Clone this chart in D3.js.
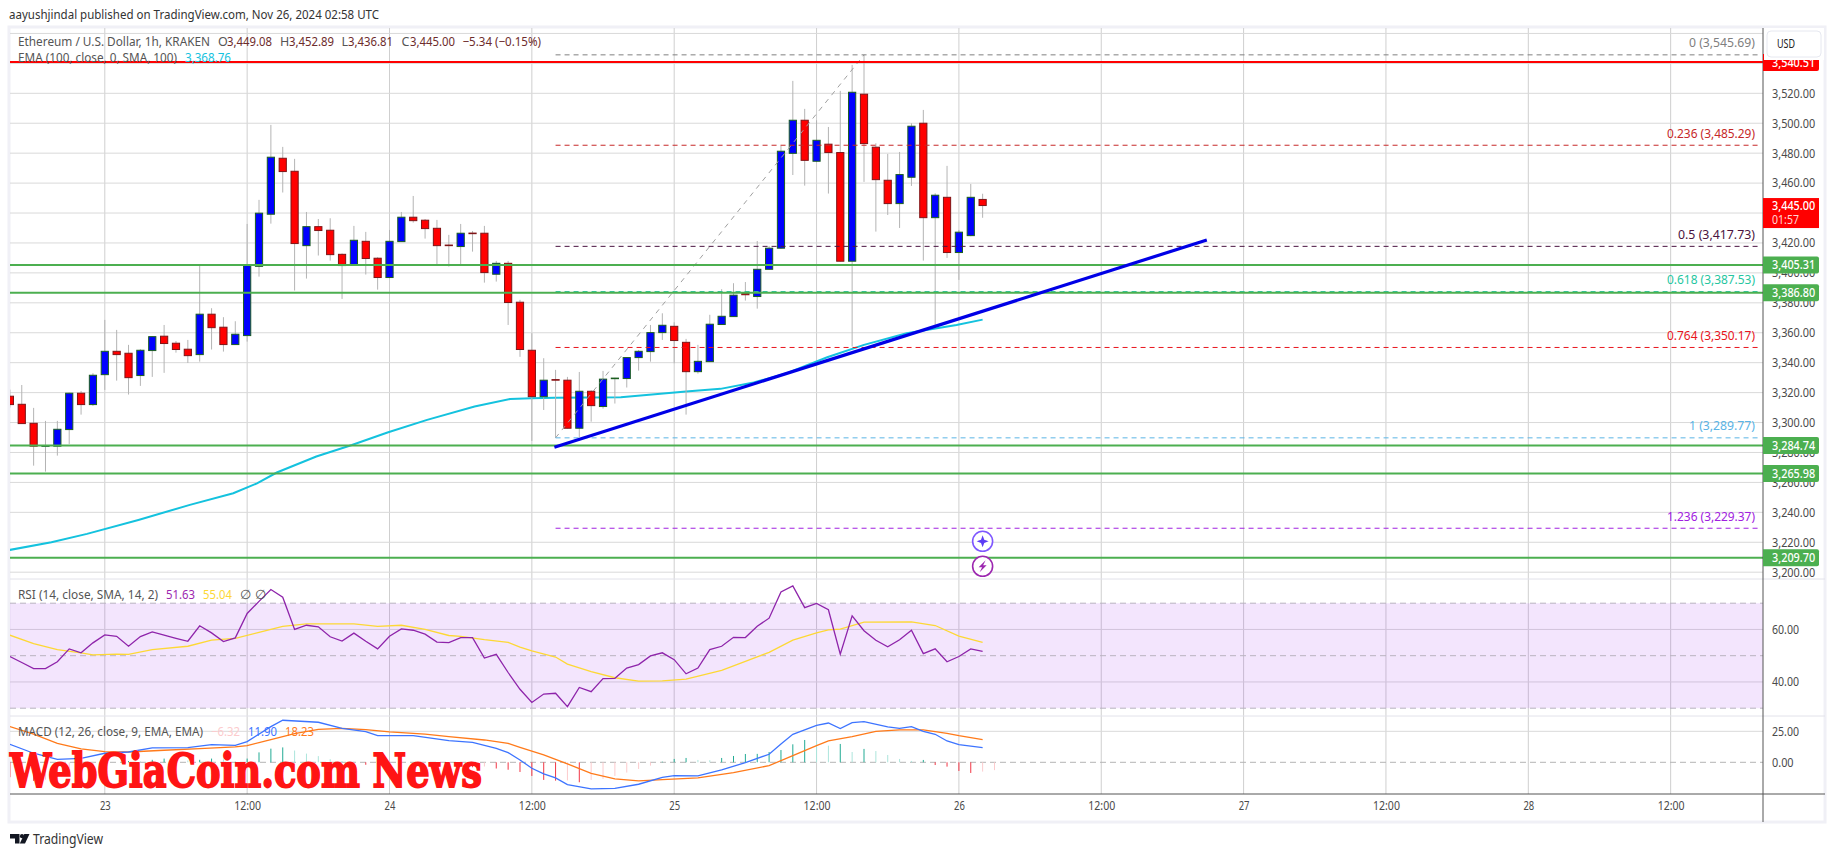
<!DOCTYPE html>
<html>
<head>
<meta charset="utf-8">
<script src="https://cdn.jsdelivr.net/npm/d3@7"></script>
<style>
  html, body { margin: 0; padding: 0; background: #fff; overflow: hidden; }
  text { font-family: "Noto Sans", sans-serif; }
</style>
</head>
<body>
<div id="chart"></div>
<script>
// Candles, one per hour. Hour 0 = Nov 23 00:00, first candle is hour -8
const firstHour = -8;
const opens = [3317.6,3312.2,3299.5,3284.2,3284.2,3295.3,3319.6,3312,3332,3347.6,3346.3,3331.4,3348.1,3357.7,3353,3349,3345.4,3372.4,3363.7,3352.1,
  3358.1,3404.4,3439.2,3476.6,3467.9,3418.2,3430.9,3428.5,3412.4,3405.5,3421.1,3409.8,3396.9,3420.9,3437.2,3435.2,3429.8,3418.6,3417.6,3426.6,
  3426.5,3399.1,3406.4,3380.4,3348.3,3317.3,3328.7,3328.3,3296.2,3320.9,3310.7,3329.4,3329.4,3343.4,3347.4,3360.1,3364.3,3353.6,3334,3340.7,
  3365.5,3370.8,3386.2,3384.2,3402.4,3416.5,3479.9,3502,3474.6,3486,3480.4,3407.8,3519.4,3484,3461.9,3446.3,3463.9,3500,3436.9,3450.5,3413.6,3424.9,3449.08];
const highs = [3322,3325.1,3309.8,3301.1,3301.1,3320,3321.1,3333,3368.6,3361.9,3351.9,3349,3357.6,3365.2,3354.5,3355.2,3404.9,3376.4,3370.4,3367.7,
  3432.7,3448.8,3498.9,3484.2,3476.2,3440.7,3436,3436.5,3413,3431.4,3427.4,3410.5,3428.7,3440.7,3451.4,3436,3435.4,3425.4,3432.7,3428,
  3431.4,3408,3408,3382,3359.7,3343,3335.2,3330.5,3333.8,3321.5,3334.5,3329.9,3343.6,3348.5,3365.2,3373,3367,3355.9,3351.9,3372,
  3389.1,3393.1,3393.9,3421.3,3418,3485,3528.3,3509.6,3502,3497.5,3521.6,3539,3545.69,3486.6,3479.5,3480.8,3500,3508.9,3453.2,3471.5,3428.7,3459.4,3452.89];
const lows = [3310,3299.3,3271.2,3267.2,3277.9,3285.7,3305.3,3311.1,3321.8,3328,3318.7,3324.5,3330.5,3333.2,3346.7,3339.8,3340.7,3348.8,3347.4,3352,
  3354.1,3397.5,3432.9,3453.7,3388.2,3396.2,3411.6,3408.2,3382.6,3405,3398.9,3388.8,3396.4,3420.9,3433.6,3422.9,3405.1,3404.2,3405.8,3414.2,
  3393.5,3394.2,3365.2,3343.9,3287.7,3308.4,3289.77,3296,3290.2,3300.6,3309.3,3312.7,3323.4,3334.7,3340.7,3355.2,3339.6,3305.3,3332.7,3340.6,
  3365.4,3370.7,3381.5,3376.1,3402,3416,3465.4,3458.3,3474,3453,3407.5,3350.8,3460.8,3427.6,3438.7,3430,3458.1,3408.2,3365.2,3410,3395.3,3424.5,3436.81];
const closes = [3312,3299.3,3284.2,3284.5,3295.5,3319.6,3312,3331.6,3347.6,3345.4,3330,3348.3,3357.4,3352.8,3348.8,3344.7,3372.4,3363.4,3352.1,3359,
  3404.9,3439.9,3477.3,3467.7,3419.6,3430.9,3428.3,3412.2,3404.9,3421.8,3409.6,3396.9,3421.1,3437.2,3434.9,3429.6,3418.2,3418.3,3426.5,3426.4,
  3400.2,3406.4,3380.2,3348.8,3317.3,3328.3,3328.4,3296.2,3320.9,3311.3,3329,3329.7,3343.4,3347.6,3360.1,3365,3354.8,3334,3340.9,3365.7,
  3371,3385.1,3385.4,3402.4,3416.5,3481.3,3502,3475.2,3488.6,3480.4,3407.8,3520.7,3486.4,3462.3,3446.3,3465.7,3498,3436.9,3451.9,3413.6,3427.2,3450.5,3445];

// EMA 100, read at a handful of hours
const emaHours = [-8,-4.5,-1.5,2.83,7.17,10.83,12.83,14.5,17.83,20.83,23.83,27.17,31.17,34.17,36,37.9,43.5,49,51.9,54.7,57.5,60.9,64,67.6,71.8,74];
const emaValues = [3214.9,3220,3225.6,3234.9,3245,3252.8,3259.4,3266.6,3277.3,3285,3293.3,3301.8,3310.7,3315.8,3316.2,3316.5,3316.9,3320.7,3322.5,3326.7,3333,3343.6,3351.9,3359.7,3365.2,3368.76];

// Horizontal levels
const greenLevels = [3405.31,3386.8,3284.74,3265.98,3209.7];
const redLevel = 3540.51;
const lastPrice = 3445;
const lastCountdown = "01:57";

// Fibonacci retracement
const fibRatios = ["0","0.236","0.5","0.618","0.764","1","1.236"];
const fibPrices = [3545.69,3485.29,3417.73,3387.53,3350.17,3289.77,3229.37];
const fibColors = ["#808080","#c62828","#4a1440","#26c6a0","#e8141c","#5ab4e6","#a020e0"];
const fibStartHour = 38;
const fibTopHour = 64;

// Trend line, hour and price of its two ends
const trendHours = [37.9,92.9];
const trendPrices = [3283.5,3422];

// RSI, one value per hour from firstHour
const rsiValues = [49.7,47.4,45.1,45.1,47.7,52.6,51.1,54.9,57.9,57.4,53.6,57.3,59.1,57.8,56.6,55.5,61.4,58.7,55.4,56.8,
  66.1,70.7,75.2,72.3,60,61.6,61,57.2,55.6,58.6,55.5,52.6,57.4,60.2,59.7,58.2,55.2,55,56.9,56.9,
  49.1,50.5,43.6,37.2,32.2,35.4,35.7,30.6,37.9,36.3,41.3,41.4,45.3,46.6,49.9,51.1,48.5,43.1,45.3,52.3,
  53.6,57,56.9,61.2,64.3,74.3,76.6,68.3,69.9,67.5,50.6,65.2,59.5,55.9,53.4,56.1,59.7,50.8,52.6,47.7,49.7,52.6,51.63];
const rsiSmaHours = [-8,-6,-4,-2,-1,1,2,4,7,9,11,13,15,17,21,23,25,27,29,30,32,34,35,36,38,39,41,43,45,47,49,52,54,56,58,60,61,62,64,68,70,72,74];
const rsiSmaValues = [57.8,54.6,52.3,51.1,50.3,50.6,50.5,52.3,53.6,55.9,56.6,58.9,61.2,62.1,62.1,61.2,61.6,60,57.7,57.4,56.1,55.1,53.3,51.8,49.5,46.8,43.9,41.6,40.3,40.4,41.1,44.4,47.8,51.3,55.9,58.7,59.8,60.1,62.8,62.9,61.5,57.5,55.04];

// MACD
const macdHours = [-8,-6,-4,-2,0,2,4,7,9,11,12,14,15,18,20,22,23,26,29,31,33,34,35,36,37,38,39,41,43,45,47,48,50,52,54,56,57,58,60,61,62,63,64,66,67,68,69,70,71,72,74];
const macdValues = [14.5,7.3,2.4,3.2,7.3,8.3,11.6,11.8,14.2,13.7,16.7,28.8,33.9,32.3,27.4,24.7,21.5,21.5,17.5,16.1,11.3,7.8,1.9,-4.8,-9.4,-12.6,-18,-21.5,-21,-17.7,-12.1,-10.8,-11,-6.2,-0.3,6.5,14.8,22.6,29.8,31.7,27.2,32,32.8,28.5,27.4,28.8,25,22.6,17.2,14.2,11.9];
const signalHours = [-8,-6,-4,-2,0,2,5,8,11,12,14,16,18,20,22,24,27,29,32,34,35,37,39,41,43,45,47,50,53,56,58,60,61,63,65,67,69,71,72,74];
const signalValues = [28.8,22.8,15.3,10.8,8.6,8.3,9.7,11,12.4,13.4,18.3,23.1,26.6,27.4,26.3,24.5,22.8,20.7,18,15.3,12.1,5.9,-1.3,-8.9,-13.4,-15,-14,-12.6,-8.3,-2.7,5.4,13.4,17.2,20.7,25,26.1,26.1,23.4,21.5,18.23];
const histValues = [-12,-14,-15,-14,-12,-9,-8,-5,-1,0,1,0.7,2,3,2.5,1.5,2,3,2.4,0.8,
  3,8,11,12,9.5,7,5,2.5,1,0.4,-2,-2,-1.5,-1,-0.6,-0.4,-0.2,-0.1,-3,-4,
  -3.4,-5,-6,-7.8,-11,-14.2,-14.8,-14.6,-16.1,-14.2,-13.4,-11,-8.3,-5.4,-2.7,0.5,2.7,3.5,1.9,1.7,
  3.5,5.1,6.7,6.8,8.3,9.9,14.5,18,17.2,13.4,14.8,8.3,10.8,9.1,5.9,2.7,1.1,1.9,-2.2,-3.5,-7,-8.6,-7.5,-6.32];

// Axis ticks
const priceTicks = [3200,3220,3240,3260,3280,3300,3320,3340,3360,3380,3400,3420,3440,3460,3480,3500,3520,3540,3560];
const rsiTicks = [40,60];
const macdTicks = [0,25];
const timeTicks = [0,12,24,36,48,60,72,84,96,108,120,132];
const timeLabels = ["23","12:00","24","12:00","25","12:00","26","12:00","27","12:00","28","12:00"];

const width = 1835, height = 857;
const plotLeft = 10, plotRight = 1763, paneTop = 28, mainBottom = 579, rsiBottom = 716, macdBottom = 794, frameRight = 1825, frameBottom = 822;
const charWidth = 5.4; // labels in the reference are narrow, squeeze to this per character

const svg = d3.select("#chart").append("svg")
    .attr("width", width)
    .attr("height", height)
    .attr("viewBox", `0 0 ${width} ${height}`);

const xScale = d3.scaleLinear().domain([0, 12]).range([104.8, 247.15]);
const yScale = d3.scaleLinear().domain([3520, 3200]).range([93.3, 572.2]);
const rsiScale = d3.scaleLinear().domain([70, 30]).range([603.2, 708.2]);
const macdScale = d3.scaleLinear().domain([25, 0]).range([731.3, 762.3]);

const fmt = d3.format(",.2f");
const hourOf = i => firstHour + i;

// clip for everything that sits in the plot
svg.append("clipPath").attr("id", "plot-clip").append("rect")
    .attr("x", plotLeft).attr("y", paneTop)
    .attr("width", plotRight - plotLeft).attr("height", macdBottom - paneTop);

// frame
svg.append("rect")
    .attr("x", 9).attr("y", 27)
    .attr("width", frameRight - 9).attr("height", frameBottom - 27)
    .attr("fill", "#fff").attr("stroke", "#f0f0f6").attr("stroke-width", 3);

const plot = svg.append("g").attr("clip-path", "url(#plot-clip)");

// grid
const gridColor = "#d9d9d9";
plot.selectAll(".grid-x").data(timeTicks).enter().append("line")
    .attr("class", "grid-x")
    .attr("x1", d => xScale(d)).attr("x2", d => xScale(d))
    .attr("y1", paneTop).attr("y2", macdBottom)
    .attr("stroke", "#cfcfcf").attr("stroke-width", 1);
plot.selectAll(".grid-y").data(priceTicks).enter().append("line")
    .attr("class", "grid-y")
    .attr("x1", plotLeft).attr("x2", plotRight)
    .attr("y1", d => yScale(d)).attr("y2", d => yScale(d))
    .attr("stroke", gridColor);
plot.selectAll(".grid-rsi").data(rsiTicks).enter().append("line")
    .attr("class", "grid-rsi")
    .attr("x1", plotLeft).attr("x2", plotRight)
    .attr("y1", d => rsiScale(d)).attr("y2", d => rsiScale(d))
    .attr("stroke", gridColor);
plot.append("line")
    .attr("x1", plotLeft).attr("x2", plotRight)
    .attr("y1", macdScale(25)).attr("y2", macdScale(25))
    .attr("stroke", gridColor);

// EMA sits behind the candles
const emaLine = d3.line().x((d, i) => xScale(emaHours[i])).y(d => yScale(d));
plot.append("path").datum(emaValues)
    .attr("d", emaLine)
    .attr("fill", "none").attr("stroke", "#14c2de").attr("stroke-width", 2);

// candles
const candles = plot.append("g").selectAll("g").data(closes).enter().append("g");
candles.append("line")
    .attr("x1", (d, i) => xScale(hourOf(i))).attr("x2", (d, i) => xScale(hourOf(i)))
    .attr("y1", (d, i) => yScale(highs[i])).attr("y2", (d, i) => yScale(lows[i]))
    .attr("stroke", "#b4b4b4").attr("stroke-width", 1);
candles.append("rect")
    .attr("x", (d, i) => xScale(hourOf(i)) - 3.6)
    .attr("width", 7.2)
    .attr("y", (d, i) => yScale(Math.max(opens[i], d)))
    .attr("height", (d, i) => Math.max(0.6, Math.abs(yScale(opens[i]) - yScale(d))))
    .attr("fill", (d, i) => d >= opens[i] ? "#0000ff" : "#ff0000")
    .attr("stroke", (d, i) => d >= opens[i] ? "#1b5e20" : "#7f1416")
    .attr("stroke-width", 1);

// fib retracement
plot.append("line")
    .attr("x1", xScale(fibStartHour)).attr("y1", yScale(fibPrices[5]))
    .attr("x2", xScale(fibTopHour)).attr("y2", yScale(fibPrices[0]))
    .attr("stroke", "#a0a0a0").attr("stroke-dasharray", "5 5");
plot.selectAll(".fib").data(fibPrices).enter().append("line")
    .attr("class", "fib")
    .attr("x1", xScale(fibStartHour)).attr("x2", 1759)
    .attr("y1", d => yScale(d)).attr("y2", d => yScale(d))
    .attr("stroke", (d, i) => fibColors[i])
    .attr("stroke-dasharray", "5 4");

// support and resistance levels
plot.selectAll(".level").data(greenLevels).enter().append("line")
    .attr("class", "level")
    .attr("x1", plotLeft).attr("x2", plotRight)
    .attr("y1", d => yScale(d)).attr("y2", d => yScale(d))
    .attr("stroke", "#4caf50").attr("stroke-width", 2);
plot.append("line")
    .attr("x1", plotLeft).attr("x2", plotRight)
    .attr("y1", yScale(redLevel) - 0.6).attr("y2", yScale(redLevel) - 0.6)
    .attr("stroke", "#ff0000").attr("stroke-width", 2);

// trend line
plot.append("line")
    .attr("x1", xScale(trendHours[0])).attr("y1", yScale(trendPrices[0]))
    .attr("x2", xScale(trendHours[1])).attr("y2", yScale(trendPrices[1]))
    .attr("stroke", "#0000e6").attr("stroke-width", 3.2);

// fib labels
svg.selectAll(".fib-label").data(fibPrices).enter().append("text")
    .attr("class", "fib-label")
    .attr("x", 1755).attr("y", d => yScale(d) - 12)
    .attr("dy", "0.35em").attr("text-anchor", "end")
    .attr("font-size", 12.5)
    .attr("fill", (d, i) => fibColors[i])
    .text((d, i) => `${fibRatios[i]} (${fmt(d)})`)
    .attr("textLength", (d, i) => `${fibRatios[i]} (${fmt(d)})`.length * 5.5)
    .attr("lengthAdjust", "spacingAndGlyphs");

// RSI pane
plot.append("rect")
    .attr("x", plotLeft).attr("width", plotRight - plotLeft)
    .attr("y", rsiScale(70)).attr("height", rsiScale(30) - rsiScale(70))
    .attr("fill", "rgb(155,38,238)").attr("fill-opacity", 0.12);
plot.selectAll(".rsi-band").data([70, 50, 30]).enter().append("line")
    .attr("class", "rsi-band")
    .attr("x1", plotLeft).attr("x2", plotRight)
    .attr("y1", d => rsiScale(d)).attr("y2", d => rsiScale(d))
    .attr("stroke", "#b9b3bf").attr("stroke-dasharray", "6 4");
plot.append("path").datum(rsiSmaValues)
    .attr("d", d3.line().x((d, i) => xScale(rsiSmaHours[i])).y(d => rsiScale(d)))
    .attr("fill", "none").attr("stroke", "#fdd835").attr("stroke-width", 1.3);
plot.append("path").datum(rsiValues)
    .attr("d", d3.line().x((d, i) => xScale(hourOf(i))).y(d => rsiScale(d)))
    .attr("fill", "none").attr("stroke", "#8e24aa").attr("stroke-width", 1.3);

// MACD pane
plot.append("line")
    .attr("x1", plotLeft).attr("x2", plotRight)
    .attr("y1", macdScale(0)).attr("y2", macdScale(0))
    .attr("stroke", "#b5b5b5").attr("stroke-dasharray", "6 4");
const histColor = (d, i) => {
    const prev = i > 0 ? histValues[i - 1] : d;
    if (d >= 0) return d >= prev ? "#22ab94" : "#ace5dc";
    return d <= prev ? "#f23645" : "#fccbcd";
};
plot.selectAll(".hist").data(histValues).enter().append("line")
    .attr("class", "hist")
    .attr("x1", (d, i) => xScale(hourOf(i))).attr("x2", (d, i) => xScale(hourOf(i)))
    .attr("y1", macdScale(0)).attr("y2", d => macdScale(d))
    .attr("stroke", histColor).attr("stroke-width", 1);
plot.append("path").datum(signalValues)
    .attr("d", d3.line().x((d, i) => xScale(signalHours[i])).y(d => macdScale(d)))
    .attr("fill", "none").attr("stroke", "#ff7a1a").attr("stroke-width", 1.3);
plot.append("path").datum(macdValues)
    .attr("d", d3.line().x((d, i) => xScale(macdHours[i])).y(d => macdScale(d)))
    .attr("fill", "none").attr("stroke", "#3d74ff").attr("stroke-width", 1.3);

// pane separators and axis lines
[mainBottom, rsiBottom].forEach(y => {
    svg.append("line").attr("x1", plotLeft).attr("x2", frameRight)
        .attr("y1", y).attr("y2", y).attr("stroke", "#e2e2ea");
});
svg.append("line").attr("x1", plotLeft).attr("x2", frameRight)
    .attr("y1", macdBottom).attr("y2", macdBottom).attr("stroke", "#555").attr("stroke-width", 1);
svg.append("line").attr("x1", plotRight).attr("x2", plotRight)
    .attr("y1", paneTop).attr("y2", frameBottom).attr("stroke", "#555").attr("stroke-width", 1);

// axes
const styleAxis = g => {
    g.select(".domain").remove();
    g.selectAll("line").remove();
    g.selectAll("text").attr("font-size", 12).attr("fill", "#4a4a4a")
        .style("font-family", '"Noto Sans", sans-serif')
        .attr("textLength", function () { return this.textContent.length * charWidth; })
        .attr("lengthAdjust", "spacingAndGlyphs");
};
const rightAxis = (scale, ticks) => d3.axisRight(scale).tickValues(ticks).tickFormat(fmt).tickSize(0).tickPadding(9);
svg.append("g").attr("transform", `translate(${plotRight},0)`)
    .call(rightAxis(yScale, priceTicks)).call(styleAxis);
svg.append("g").attr("transform", `translate(${plotRight},0)`)
    .call(rightAxis(rsiScale, rsiTicks)).call(styleAxis);
svg.append("g").attr("transform", `translate(${plotRight},0)`)
    .call(rightAxis(macdScale, macdTicks)).call(styleAxis);
svg.append("g").attr("transform", `translate(0,${macdBottom})`)
    .call(d3.axisBottom(xScale).tickValues(timeTicks)
        .tickFormat((d, i) => timeLabels[i]).tickSize(0).tickPadding(7))
    .call(styleAxis);

// price badges
const badgeText = (x, y, s, color, weight) => svg.append("text")
    .attr("x", x).attr("y", y).attr("dy", "0.35em")
    .attr("font-size", 12).attr("font-weight", weight).attr("fill", color)
    .attr("textLength", s.length * charWidth).attr("lengthAdjust", "spacingAndGlyphs")
    .text(s);
const badge = (price, color) => {
    const y = yScale(price);
    svg.append("path")
        .attr("d", `M${plotRight} ${y - 8.5}H1817a2 2 0 0 1 2 2V${y + 6.5}a2 2 0 0 1 -2 2H${plotRight}Z`)
        .attr("fill", color);
    badgeText(1772, y, fmt(price), "#fff", 500);
};
greenLevels.forEach(d => badge(d, "#4caf50"));
badge(redLevel, "#ff0000");

// USD button goes over the red badge and cuts it off
svg.append("rect")
    .attr("x", plotRight + 1).attr("y", paneTop).attr("width", frameRight - plotRight - 2).attr("height", 32)
    .attr("fill", "#fff");
svg.append("rect")
    .attr("x", 1767).attr("y", 31).attr("width", 54).attr("height", 26).attr("rx", 4)
    .attr("fill", "#fff").attr("stroke", "#e6e8f0");
svg.append("text").attr("x", 1777).attr("y", 44).attr("dy", "0.35em")
    .attr("font-size", 12).attr("fill", "#222")
    .attr("textLength", 18).attr("lengthAdjust", "spacingAndGlyphs").text("USD");

// last price
const lastY = yScale(lastPrice);
svg.append("rect")
    .attr("x", plotRight).attr("y", lastY - 7.5).attr("width", 56).attr("height", 30)
    .attr("fill", "#ff0000");
badgeText(1772, lastY, fmt(lastPrice), "#fff", 500);
badgeText(1772, lastY + 14, lastCountdown, "#ffd6d6", 400);

// icons on the chart
const iconX = xScale(74);
svg.append("circle").attr("cx", iconX).attr("cy", 541.3).attr("r", 10)
    .attr("fill", "#fff").attr("stroke", "#7e57ff").attr("stroke-width", 1.6);
svg.append("path")
    .attr("transform", `translate(${iconX},541.3)`)
    .attr("d", "M0 -6L1.6 -1.6L6 0L1.6 1.6L0 6L-1.6 1.6L-6 0L-1.6 -1.6Z")
    .attr("fill", "#5c3cf5");
svg.append("circle").attr("cx", iconX).attr("cy", 566.3).attr("r", 10)
    .attr("fill", "#fff").attr("stroke", "#9c27b0").attr("stroke-width", 1.6);
svg.append("path")
    .attr("transform", `translate(${iconX},566.3)`)
    .attr("d", "M3 -6L-4 1H-0.5L-3 6L4 -1H0.5Z")
    .attr("fill", "#9c27b0");

// legends, each part is [x, text, colour, width]
const legend = (y, parts) => {
    parts.forEach(p => {
        const t = svg.append("text").attr("x", p[0]).attr("y", y).attr("dy", "0.35em")
            .attr("font-size", 12.5).attr("fill", p[2]).text(p[1]);
        if (p[3]) t.attr("textLength", p[3]).attr("lengthAdjust", "spacingAndGlyphs");
    });
};
const ohlcColor = "#6d2c2c", legendGrey = "#555";
legend(42, [
    [18, "Ethereum / U.S. Dollar, 1h, KRAKEN", legendGrey, 192],
    [218, "O", legendGrey], [227, "3,449.08", ohlcColor, 45],
    [280, "H", legendGrey], [289, "3,452.89", ohlcColor, 45],
    [341.5, "L", legendGrey], [348, "3,436.81", ohlcColor, 45],
    [401.6, "C", legendGrey], [410, "3,445.00", ohlcColor, 45],
    [462.5, "−5.34 (−0.15%)", ohlcColor, 78.5]
]);
legend(58, [
    [18, "EMA (100, close, 0, SMA, 100)", legendGrey, 159],
    [185, "3,368.76", "#14c2de", 46]
]);
legend(595, [
    [18, "RSI (14, close, SMA, 14, 2)", legendGrey, 140],
    [166, "51.63", "#9c27b0", 29], [203, "55.04", "#fdd835", 29],
    [240, "∅", legendGrey], [255, "∅", legendGrey]
]);
legend(731.7, [
    [18, "MACD (12, 26, close, 9, EMA, EMA)", legendGrey, 185],
    [211, "−6.32", "#fccbcd", 29], [248, "11.90", "#3d74ff", 29], [285, "18.23", "#ff7a1a", 29]
]);

// header and footer
svg.append("text").attr("x", 9).attr("y", 19)
    .attr("font-size", 12.5).attr("fill", "#333")
    .attr("textLength", 370).attr("lengthAdjust", "spacingAndGlyphs")
    .text("aayushjindal published on TradingView.com, Nov 26, 2024 02:58 UTC");
svg.append("path")
    .attr("d", "M10 834H19.5V843.5H15V838.5H10ZM29.5 834L25 843.5H19.8L24.3 834Z")
    .attr("fill", "#131722");
svg.append("circle").attr("cx", 22).attr("cy", 836.2).attr("r", 2.1).attr("fill", "#131722");
svg.append("text").attr("x", 33).attr("y", 839).attr("dy", "0.35em")
    .attr("font-size", 14).attr("fill", "#333")
    .attr("textLength", 70).attr("lengthAdjust", "spacingAndGlyphs").text("TradingView");

// watermark
svg.append("text")
    .attr("x", 10).attr("y", 786.5)
    .attr("textLength", 472).attr("lengthAdjust", "spacingAndGlyphs")
    .attr("font-size", 46).attr("font-weight", 700)
    .attr("stroke", "#ff1414").attr("stroke-width", 1.8)
    .attr("fill", "#ff1414")
    .style("font-family", '"DejaVu Serif", serif')
    .text("WebGiaCoin.com News");
</script>
</body>
</html>
